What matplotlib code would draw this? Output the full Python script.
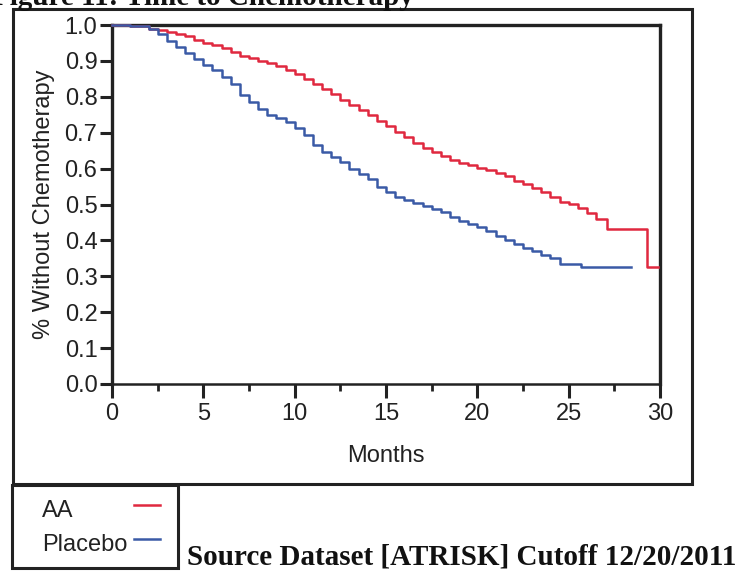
import matplotlib
matplotlib.use("Agg")
import matplotlib.pyplot as plt
from matplotlib.patches import Rectangle
from matplotlib.lines import Line2D

# ---- data ----
aa_months = [0, 1.0, 2.0, 2.5, 3.0, 3.5, 4.0, 4.5, 5.0, 5.5, 6.0, 6.5, 7.0, 7.5, 8.0,
             8.5, 9.0, 9.5, 10.0, 10.5, 11.0, 11.5, 12.0, 12.5, 13.0, 13.5, 14.0,
             14.5, 15.0, 15.5, 16.0, 16.5, 17.0, 17.5, 18.0, 18.5, 19.0, 19.5, 20.0,
             20.5, 21.0, 21.5, 22.0, 22.5, 23.0, 23.5, 24.0, 24.5, 25.0, 25.5, 26.0,
             26.5, 27.1, 29.3, 29.9]
aa_surv = [1.0, 0.998, 0.99, 0.985, 0.980, 0.975, 0.968, 0.958, 0.950, 0.943, 0.935,
           0.925, 0.915, 0.907, 0.900, 0.893, 0.885, 0.874, 0.863, 0.850, 0.836, 0.822,
           0.808, 0.792, 0.777, 0.762, 0.748, 0.733, 0.718, 0.703, 0.688, 0.672, 0.658,
           0.645, 0.634, 0.625, 0.616, 0.609, 0.603, 0.596, 0.588, 0.578, 0.566, 0.556,
           0.546, 0.534, 0.522, 0.507, 0.502, 0.490, 0.475, 0.460, 0.433, 0.325, 0.325]

pl_months = [0, 1.0, 2.0, 2.5, 3.0, 3.5, 4.0, 4.5, 5.0, 5.5, 6.0, 6.5, 7.0, 7.5, 8.0,
             8.5, 9.0, 9.5, 10.0, 10.5, 11.0, 11.5, 12.0, 12.5, 13.0, 13.5, 14.0,
             14.5, 15.0, 15.5, 16.0, 16.5, 17.0, 17.5, 18.0, 18.5, 19.0, 19.5, 20.0,
             20.5, 21.0, 21.5, 22.0, 22.5, 23.0, 23.5, 24.0, 24.5, 25.7, 28.4]
pl_surv = [1.0, 0.998, 0.99, 0.975, 0.955, 0.938, 0.922, 0.905, 0.888, 0.875, 0.855,
           0.835, 0.805, 0.785, 0.765, 0.750, 0.740, 0.730, 0.712, 0.693, 0.665, 0.645,
           0.633, 0.618, 0.600, 0.585, 0.570, 0.548, 0.535, 0.522, 0.512, 0.503, 0.495,
           0.487, 0.478, 0.466, 0.455, 0.445, 0.436, 0.425, 0.412, 0.400, 0.390, 0.380,
           0.370, 0.360, 0.350, 0.335, 0.325, 0.325]

x_ticks = [0, 5, 10, 15, 20, 25, 30]
y_ticks = [0.0, 0.1, 0.2, 0.3, 0.4, 0.5, 0.6, 0.7, 0.8, 0.9, 1.0]
series_labels = ["AA", "Placebo"]
title_text = "Figure 11: Time to Chemotherapy"
source_text = "Source Dataset [ATRISK] Cutoff 12/20/2011"

RED = "#e0283f"
BLUE = "#3a5aa6"
INK = "#222222"
FS = 17

W, H = 743, 573
fig = plt.figure(figsize=(W / 100, H / 100), dpi=100)
fig.patch.set_facecolor("white")

def fx(px):
    return px / W

def fy(py):
    return 1 - py / H

ax = fig.add_axes([fx(112), fy(384), fx(660) - fx(112), fy(25) - fy(384)])
ax.step(aa_months, aa_surv, where="post", color=RED, lw=1.8, clip_on=False, zorder=3)
ax.step(pl_months, pl_surv, where="post", color=BLUE, lw=1.8, clip_on=False, zorder=3)
ax.set_xlim(0, 30)
ax.set_ylim(0, 1.0)
ax.set_xticks(x_ticks)
ax.set_xticks([2.5, 7.5, 12.5, 17.5, 22.5, 27.5], minor=True)
ax.set_yticks(y_ticks)
ax.set_yticklabels([f"{v:.1f}" for v in y_ticks])
for s in ax.spines.values():
    s.set_linewidth(2.4)
    s.set_color(INK)
ax.spines["bottom"].set_linewidth(1.8)
ax.tick_params(axis="y", which="major", direction="out", length=9, width=2.2,
               labelsize=FS, pad=1.5, colors=INK)
ax.tick_params(axis="x", which="major", direction="out", length=10, width=2.2,
               labelsize=FS, pad=4, colors=INK)
ax.tick_params(axis="x", which="minor", direction="out", length=5, width=2.0, colors=INK)
for lab in ax.get_xticklabels() + ax.get_yticklabels():
    lab.set_fontfamily("Liberation Sans")
ax.set_xlabel("Months", fontsize=FS, family="Liberation Sans", labelpad=14, color=INK)
ax.set_ylabel("% Without Chemotherapy", fontsize=FS, family="Liberation Sans",
              labelpad=7, color=INK)

# outer frame
fig.add_artist(Rectangle((fx(13), fy(484)), fx(692) - fx(13), fy(9) - fy(484),
                         transform=fig.transFigure, fill=False, lw=2.2, ec=INK))
# legend box
fig.add_artist(Rectangle((fx(12), fy(568)), fx(178) - fx(12), fy(485) - fy(568),
                         transform=fig.transFigure, fill=False, lw=2.2, ec=INK))
fig.text(fx(42), fy(511), series_labels[0], fontsize=FS, family="Liberation Sans",
         va="center", ha="left", color=INK)
fig.text(fx(42), fy(545), series_labels[1], fontsize=FS, family="Liberation Sans",
         va="center", ha="left", color=INK)
fig.add_artist(Line2D([fx(134), fx(160)], [fy(505), fy(505)], transform=fig.transFigure,
                      color=RED, lw=1.8))
fig.add_artist(Line2D([fx(134), fx(160)], [fy(539), fy(539)], transform=fig.transFigure,
                      color=BLUE, lw=1.8))

# title (cut off at top, as in the reference) and source note
fig.text(fx(-8), fy(5), title_text, fontsize=21, family="Liberation Serif",
         fontweight="bold", va="baseline", ha="left", color="#111111")
fig.text(fx(187), fy(565), source_text, fontsize=21, family="Liberation Serif",
         fontweight="bold", va="baseline", ha="left", color="#111111")

fig.savefig("out.png", dpi=100, facecolor="white")
